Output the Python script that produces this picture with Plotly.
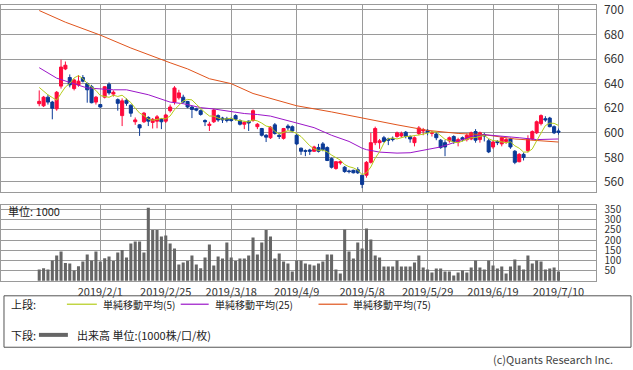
import plotly.graph_objects as go
import pandas as pd

# ---------------- data ----------------
dates = [
    "2019/1/11", "2019/1/15", "2019/1/16", "2019/1/17", "2019/1/18", "2019/1/21", "2019/1/22",
    "2019/1/23", "2019/1/24", "2019/1/25", "2019/1/28", "2019/1/29", "2019/1/30", "2019/1/31",
    "2019/2/1", "2019/2/4", "2019/2/5", "2019/2/6", "2019/2/7", "2019/2/8", "2019/2/12",
    "2019/2/13", "2019/2/14", "2019/2/15", "2019/2/18", "2019/2/19", "2019/2/20", "2019/2/21",
    "2019/2/22", "2019/2/25", "2019/2/26", "2019/2/27", "2019/2/28",
    "2019/3/1", "2019/3/4", "2019/3/5", "2019/3/6", "2019/3/7", "2019/3/8", "2019/3/11",
    "2019/3/12", "2019/3/13", "2019/3/14", "2019/3/15", "2019/3/18", "2019/3/19", "2019/3/20",
    "2019/3/22", "2019/3/25", "2019/3/26", "2019/3/27", "2019/3/28", "2019/3/29",
    "2019/4/1", "2019/4/2", "2019/4/3", "2019/4/4", "2019/4/5", "2019/4/8", "2019/4/9",
    "2019/4/10", "2019/4/11", "2019/4/12", "2019/4/15", "2019/4/16", "2019/4/17", "2019/4/18",
    "2019/4/19", "2019/4/22", "2019/4/23", "2019/4/24", "2019/4/25", "2019/4/26",
    "2019/5/7", "2019/5/8", "2019/5/9", "2019/5/10", "2019/5/13", "2019/5/14", "2019/5/15",
    "2019/5/16", "2019/5/17", "2019/5/20", "2019/5/21", "2019/5/22", "2019/5/23", "2019/5/24",
    "2019/5/27", "2019/5/28", "2019/5/29", "2019/5/30", "2019/5/31",
    "2019/6/3", "2019/6/4", "2019/6/5", "2019/6/6", "2019/6/7", "2019/6/10", "2019/6/11",
    "2019/6/12", "2019/6/13", "2019/6/14", "2019/6/17", "2019/6/18", "2019/6/19", "2019/6/20",
    "2019/6/21", "2019/6/24", "2019/6/25", "2019/6/26", "2019/6/27", "2019/6/28",
    "2019/7/1", "2019/7/2", "2019/7/3", "2019/7/4", "2019/7/5", "2019/7/8", "2019/7/9", "2019/7/10",
]

open_ = [
    623.7, 622, 629, 625, 619.5, 638, 652, 645, 636, 639, 645, 640, 637.5, 625,
    623, 629, 639.5, 631.5, 627, 614, 626.5, 622.5, 609, 606.5, 609,
    612.5, 608.5, 609.5, 611, 609.5, 618, 625, 628.5, 629, 625.5,
    621, 619.5, 618, 610, 606, 609, 614, 612, 611.5, 611,
    614, 610, 607, 609.5, 610, 605, 603.5, 598, 596, 606.5,
    598, 595.5, 605.5, 605, 598, 587.5, 585.5, 586, 585, 588,
    591, 588, 579, 571, 575.5, 572, 569, 569.5, 570, 565.5,
    565.5, 576, 592, 592, 596, 595, 595.5, 597, 597.5, 600.5,
    597, 592, 599.5, 601.5, 602, 599.5, 599, 594, 592, 593.5,
    597, 592.5, 596, 594.5, 595, 601, 594.5, 598.5, 593.5, 588.5,
    593, 591, 593, 595, 585, 576.5, 582.5, 585.5, 595, 600,
    607.5, 611.5, 612, 605, 601.5,
]
high = [
    634.5, 630, 631, 626, 634, 659.5, 658, 647.5, 644, 647, 647, 641, 639, 630,
    623.5, 638, 641, 634.5, 628, 628, 628, 623, 612.5, 607, 617,
    613.5, 612, 614.5, 612, 615.5, 623, 638, 635, 631, 626,
    622, 620.5, 619, 611, 609, 619.5, 615, 613, 613, 612.5,
    615, 611, 609.5, 610, 619, 608, 604, 599, 605.5, 608,
    599.5, 604, 607, 606, 599, 588, 586.5, 587, 589.5, 591,
    592.5, 589, 580, 577, 577.5, 573, 570, 570, 572, 566,
    577, 600, 605, 595, 597.5, 596, 597, 601, 601, 601.5,
    598, 597, 605.5, 604, 603, 601.5, 600.5, 595, 594, 597,
    598, 596, 597, 599.5, 601, 603, 601, 600, 595, 593.5,
    594, 597, 596, 596, 586, 583.5, 584, 598, 602, 610,
    615, 613.5, 613, 606, 603.5,
]
low = [
    621.6, 621, 623, 611, 618, 636, 651, 637, 634.5, 637.5, 641, 624.5, 624, 623,
    620.5, 628, 631, 629.5, 618, 605.5, 622, 613, 606.5, 597.5, 608,
    605.5, 603.5, 603.7, 603, 608, 616.5, 623, 627, 624, 620,
    612, 617.5, 614, 605.5, 601.5, 608, 609, 608, 608.5, 609,
    610, 606, 603, 601.5, 609, 603, 597, 592.5, 595, 598.5,
    595, 594.5, 602, 600.5, 590, 582, 581, 582, 584.5, 584,
    585, 577, 571, 570, 574, 567.5, 567, 567, 566.5, 555,
    563.5, 575, 590, 587, 592, 590, 593, 596, 596, 595.5,
    592, 589, 598, 598, 598, 597, 594, 587, 581, 592,
    591, 589, 593, 593, 594, 592, 592, 593, 583.5, 587,
    590, 589, 591, 587, 574.5, 576, 577.5, 584, 594, 599,
    606, 609, 604.5, 599, 598.5,
]
close = [
    625.6, 629, 625, 620, 633, 653.5, 655, 639, 643, 642, 642, 635, 624.5, 629,
    621, 637.5, 632.5, 633, 624, 626, 624, 616, 610.5, 604, 616,
    609.5, 611, 613, 609, 614.5, 621, 636.5, 632.5, 625, 621,
    619, 618.5, 615, 609, 607, 618.5, 610.5, 610.5, 610, 610,
    611, 607, 608.5, 608, 618, 607, 598, 596.5, 604.5, 599.5,
    597, 603.5, 604, 601.5, 591, 585, 585, 585, 588.5, 585,
    586.5, 577.5, 572, 576.5, 576.5, 568.5, 568.5, 567.5, 567.5, 558,
    576, 592, 603.5, 593.5, 593, 594, 594.5, 600, 599.5, 597,
    595, 596, 604, 602.5, 600.5, 600.5, 596, 588, 588.5, 596,
    593, 594.5, 594.5, 598, 600, 594, 600, 597.5, 584.5, 592.5,
    592, 596, 594.5, 588.5, 576, 582.5, 580, 595, 601, 609,
    614, 610.5, 605, 600, 600.5,
]
# closes of the four sessions before the first visible day (for the 5-day average)
pre_closes = [646, 638, 631, 644]

volume = [
    56, 62, 56, 100, 124, 144, 88, 85, 51, 72, 95, 129, 100, 144,
    95, 111, 120, 97, 139, 151, 115, 183, 193, 193, 139,
    358, 249, 249, 218, 223, 183, 159, 80, 90, 98,
    124, 80, 62, 115, 178, 75, 120, 110, 188, 115,
    97, 110, 110, 124, 213, 129, 188, 249, 218, 110,
    134, 95, 85, 46, 100, 100, 85, 80, 75, 85,
    95, 129, 129, 56, 36, 252, 144, 110, 188, 159,
    257, 203, 124, 115, 70, 70, 70, 100, 70, 70,
    70, 90, 124, 65, 56, 41, 61, 61, 46, 46,
    26, 41, 51, 41, 65, 100, 65, 56, 100, 75,
    61, 70, 36, 70, 105, 75, 56, 124, 85, 100,
    95, 56, 61, 65, 46,
]

# moving averages at sample days
ma25_dates = ["2019/1/11", "2019/1/18", "2019/1/23", "2019/1/29", "2019/2/6", "2019/2/12",
              "2019/2/19", "2019/2/26", "2019/3/1", "2019/3/7", "2019/3/12", "2019/3/18",
              "2019/3/22", "2019/3/27", "2019/4/1", "2019/4/9", "2019/4/15", "2019/4/19",
              "2019/4/25", "2019/5/8", "2019/5/9", "2019/5/14", "2019/5/20", "2019/5/23",
              "2019/5/28", "2019/6/3", "2019/6/6", "2019/6/12", "2019/6/17", "2019/6/21",
              "2019/6/27", "2019/7/3", "2019/7/10"]
ma25_vals = [653, 644.5, 641, 636.5, 635, 635, 631, 625, 623.7, 620.5, 619.4, 617,
             615.7, 614.9, 613.6, 608, 604.2, 598, 593, 587.5, 586.3, 584.3, 583.5, 583.8,
             586, 588.5, 592, 597, 598.5, 597.5, 596, 594.5, 595]

ma75_dates = ["2019/1/11", "2019/1/22", "2019/2/1", "2019/2/13", "2019/2/26", "2019/3/4",
              "2019/3/11", "2019/3/18", "2019/3/26", "2019/4/9", "2019/4/19", "2019/5/8",
              "2019/5/20", "2019/5/29", "2019/6/7", "2019/6/17", "2019/6/26", "2019/7/10"]
ma75_vals = [699.5, 690, 679.5, 669, 657, 652, 644, 640, 632, 622, 617, 612,
             606.5, 602, 599.5, 598.5, 595, 592.5]

tick_dates = ["2019/2/1", "2019/2/25", "2019/3/18", "2019/4/9", "2019/5/8",
              "2019/5/29", "2019/6/19", "2019/7/10"]
price_ticks = [560, 580, 600, 620, 640, 660, 680, 700]
vol_ticks = [50, 100, 150, 200, 250, 300, 350]

ma5 = pd.Series(pre_closes + close).rolling(5).mean().iloc[len(pre_closes):].tolist()

# ---------------- figure ----------------
W, H = 633, 370
FONT = "Noto Sans CJK JP, Noto Sans, sans-serif"
GRID = "#9a9a9a"


def py(y):
    return 1 - y / H


def px(x):
    return x / W


fig = go.Figure()
fig.add_trace(go.Candlestick(
    x=dates, open=open_, high=high, low=low, close=close,
    increasing=dict(line=dict(color="#ff0a3c", width=1), fillcolor="#ff0a3c"),
    decreasing=dict(line=dict(color="#0b3a96", width=1), fillcolor="#0b3a96"),
    whiskerwidth=0, showlegend=False, xaxis="x", yaxis="y", hoverinfo="skip",
))
fig.add_trace(go.Scatter(x=ma75_dates, y=ma75_vals, mode="lines",
                         line=dict(color="#e0541c", width=1), xaxis="x", yaxis="y", showlegend=False))
fig.add_trace(go.Scatter(x=ma25_dates, y=ma25_vals, mode="lines",
                         line=dict(color="#9b16c8", width=1), xaxis="x", yaxis="y", showlegend=False))
fig.add_trace(go.Scatter(x=dates, y=ma5, mode="lines",
                         line=dict(color="#b4cc1a", width=1), xaxis="x", yaxis="y", showlegend=False))
fig.add_trace(go.Bar(x=dates, y=volume, marker=dict(color="#666666", line=dict(width=0)),
                     width=0.7, xaxis="x2", yaxis="y2", showlegend=False))

xr = [-8.76, 127.5]
xdom = [0, 595.5 / W]
common_x = dict(type="category", range=xr, domain=xdom, tickmode="array", tickvals=tick_dates,
                showgrid=True, gridcolor=GRID, gridwidth=1, showline=True, mirror=True,
                linecolor=GRID, linewidth=1, ticks="", zeroline=False, fixedrange=True)

fig.update_layout(
    width=W, height=H, margin=dict(l=0, r=0, t=0, b=0),
    paper_bgcolor="white", plot_bgcolor="white",
    font=dict(family=FONT, size=11, color="#333333"),
    xaxis=dict(**common_x, showticklabels=False, rangeslider=dict(visible=False), anchor="y"),
    xaxis2=dict(**common_x, showticklabels=True, anchor="y2", matches="x",
                tickfont=dict(size=11, color="#333333")),
    yaxis=dict(domain=[py(190.5), py(1)], range=[551.5, 704], side="right", anchor="x",
               tickvals=price_ticks, showgrid=True, gridcolor=GRID, showline=True, mirror=True,
               linecolor=GRID, ticks="", tickfont=dict(size=12, color="#333333"),
               ticklabelstandoff=5, zeroline=False, fixedrange=True),
    yaxis2=dict(domain=[py(280.5), py(203)], range=[-3, 373], side="right", anchor="x2",
                tickvals=vol_ticks, showgrid=True, gridcolor=GRID, showline=True, mirror=True,
                linecolor=GRID, ticks="", tickfont=dict(size=10, color="#333333"),
                ticklabelstandoff=6, zeroline=False, fixedrange=True),
    bargap=0.3, boxgap=0.3, boxgroupgap=0,
)

anns = []
shapes = []


def text(x, y, s, size=11, anchor="left", color="#222222"):
    anns.append(dict(x=px(x), y=py(y), xref="paper", yref="paper", text=s, showarrow=False,
                     xanchor=anchor, yanchor="middle", font=dict(family=FONT, size=size, color=color)))


def hline(x0, x1, y, color, width):
    shapes.append(dict(type="line", xref="paper", yref="paper", x0=px(x0), x1=px(x1),
                       y0=py(y), y1=py(y), line=dict(color=color, width=width)))


text(5, 209, "単位: 1000", 11)
# legend box
shapes.append(dict(type="rect", xref="paper", yref="paper", x0=px(3), x1=px(631),
                   y0=py(347), y1=py(295), line=dict(color="#555555", width=1)))
text(8, 303.5, "上段:", 11)
hline(66, 96, 303.5, "#b4cc1a", 1.2)
text(100, 303.5, "単純移動平均(5)", 10)
hline(180, 208, 303.5, "#9b16c8", 1.2)
text(212, 303.5, "単純移動平均(25)", 10)
hline(318, 347, 303.5, "#e0541c", 1.2)
text(351, 303.5, "単純移動平均(75)", 10)
text(8, 334.5, "下段:", 11)
hline(38, 67, 334.5, "#666666", 4)
text(74, 334.5, "出来高 単位:(1000株/口/枚)", 11)
text(615, 358.5, "(c)Quants Research Inc.", 11, anchor="right", color="#444444")

fig.update_layout(annotations=anns, shapes=shapes)
fig.write_html("out.html", config={"displayModeBar": False},
               post_script="document.body.style.margin='0';document.body.style.padding='0';")
